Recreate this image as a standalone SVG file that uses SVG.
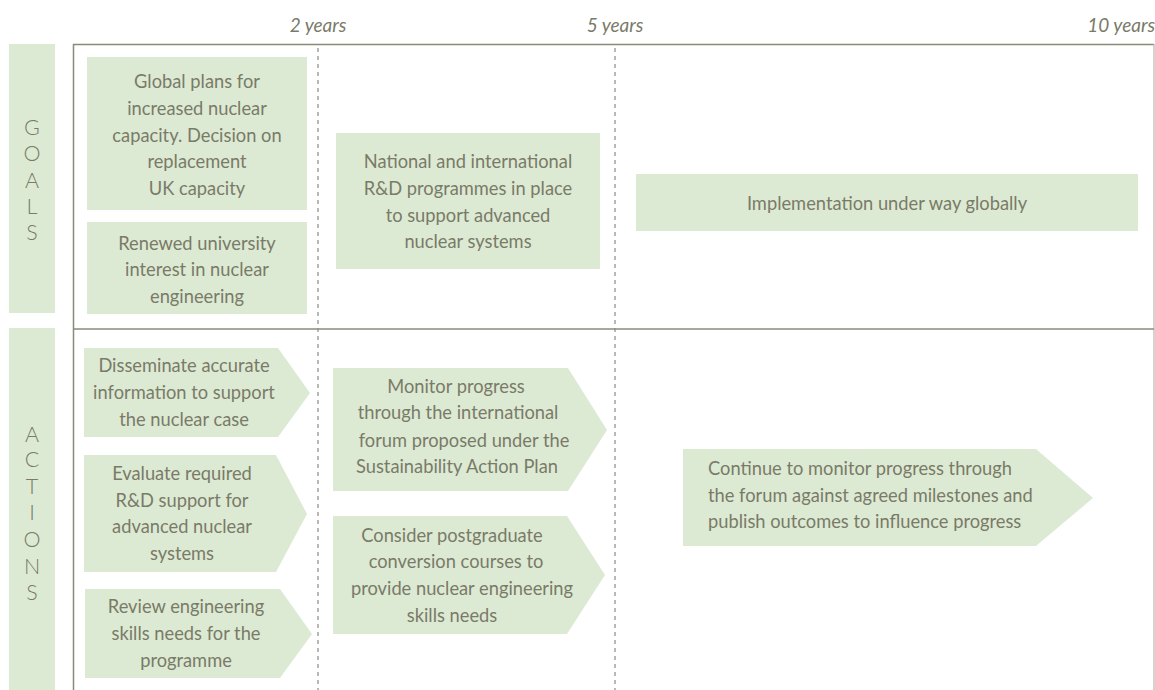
<svg xmlns="http://www.w3.org/2000/svg" width="1155" height="690" viewBox="0 0 1155 690">
<style>
.box{fill:#dcead3}
.t{font-family:Lato,"Open Sans","Liberation Sans",sans-serif;font-size:18.3px;fill:#7a7a68;text-anchor:middle}
.l{text-anchor:start}
.ax{font-family:Lato,"Open Sans","Liberation Sans",sans-serif;font-size:19px;font-style:italic;fill:#7a7a68;text-anchor:middle}
.side{font-family:Lato,"Open Sans","Liberation Sans",sans-serif;font-size:21.5px;font-weight:300;fill:#7a7a68;text-anchor:middle}
.frame{stroke:#8a8a78;stroke-width:1.5;fill:none}
.dash{stroke:#8a8a88;stroke-width:1.2;stroke-dasharray:4 4;fill:none}
</style>
<rect width="1155" height="690" fill="#ffffff"/>
<g id="axis">
<text class="ax" x="318" y="32">2 years</text>
<text class="ax" x="615" y="32">5 years</text>
<text class="ax" x="1155" y="32" style="text-anchor:end">10 years</text>
</g>
<g id="frame">
<line class="frame" x1="73.5" y1="44" x2="73.5" y2="690"/>
<line class="frame" x1="73" y1="44.5" x2="1154" y2="44.5"/>
<line x1="1154" y1="44" x2="1154" y2="690" stroke="#b8b8ac" stroke-width="1.2"/>
<line class="frame" x1="73" y1="329" x2="1154" y2="329"/>
<line class="dash" x1="318" y1="48" x2="318" y2="690"/>
<line class="dash" x1="615" y1="48" x2="615" y2="690"/>
</g>
<g id="goals-label">
<rect class="box" x="9" y="44" width="46" height="269"/>
<text class="side" x="32" y="135">G</text>
<text class="side" x="32" y="161">O</text>
<text class="side" x="32" y="188">A</text>
<text class="side" x="32" y="214">L</text>
<text class="side" x="32" y="240">S</text>
</g>
<g id="actions-label">
<rect class="box" x="9" y="328" width="46" height="362"/>
<text class="side" x="32" y="442">A</text>
<text class="side" x="32" y="467">C</text>
<text class="side" x="32" y="494">T</text>
<text class="side" x="32" y="520">I</text>
<text class="side" x="32" y="547">O</text>
<text class="side" x="32" y="574">N</text>
<text class="side" x="32" y="600">S</text>
</g>
<g id="g1">
<rect class="box" x="87" y="57" width="220" height="153"/>
<text class="t" x="197" y="88">Global plans for</text>
<text class="t" x="197" y="115">increased nuclear</text>
<text class="t" x="197" y="142">capacity. Decision on</text>
<text class="t" x="197" y="168">replacement</text>
<text class="t" x="197" y="195">UK capacity</text>
</g>
<g id="g2">
<rect class="box" x="87" y="222" width="220" height="92"/>
<text class="t" x="197" y="250">Renewed university</text>
<text class="t" x="197" y="276">interest in nuclear</text>
<text class="t" x="197" y="303">engineering</text>
</g>
<g id="g3">
<rect class="box" x="336" y="133" width="264" height="136"/>
<text class="t" x="468" y="168">National and international</text>
<text class="t" x="468" y="195">R&amp;D programmes in place</text>
<text class="t" x="468" y="222">to support advanced</text>
<text class="t" x="468" y="248">nuclear systems</text>
</g>
<g id="g4">
<rect class="box" x="636" y="174" width="502" height="57"/>
<text class="t" x="887" y="210">Implementation under way globally</text>
</g>
<g id="a1">
<polygon class="box" points="84,348 278,348 310,393 278,437 84,437"/>
<text class="t" x="184" y="372">Disseminate accurate</text>
<text class="t" x="184" y="399">information to support</text>
<text class="t" x="184" y="426">the nuclear case</text>
</g>
<g id="a2">
<polygon class="box" points="84,455 276,455 307,514 276,572 84,572"/>
<text class="t" x="182" y="480">Evaluate required</text>
<text class="t" x="182" y="507">R&amp;D support for</text>
<text class="t" x="182" y="533">advanced nuclear</text>
<text class="t" x="182" y="560">systems</text>
</g>
<g id="a3">
<polygon class="box" points="85,589 280,589 312,634 280,678 85,678"/>
<text class="t" x="186" y="613">Review engineering</text>
<text class="t" x="186" y="640">skills needs for the</text>
<text class="t" x="186" y="667">programme</text>
</g>
<g id="a4">
<polygon class="box" points="333,368 568,368 607,430 568,491 333,491"/>
<text class="t" x="456" y="393">Monitor progress</text>
<text class="t" x="458" y="419">through the international</text>
<text class="t" x="464" y="447">forum proposed under the</text>
<text class="t" x="457" y="473">Sustainability Action Plan</text>
</g>
<g id="a5">
<polygon class="box" points="333,516 567,516 605,575 567,634 333,634"/>
<text class="t" x="452" y="542">Consider postgraduate</text>
<text class="t" x="456" y="568">conversion courses to</text>
<text class="t" x="462" y="595">provide nuclear engineering</text>
<text class="t" x="452" y="622">skills needs</text>
</g>
<g id="a6">
<polygon class="box" points="683,449 1036,449 1093,498 1036,546 683,546"/>
<text class="t l" x="708" y="475">Continue to monitor progress through</text>
<text class="t l" x="708" y="502">the forum against agreed milestones and</text>
<text class="t l" x="708" y="528">publish outcomes to influence progress</text>
</g>
<g id="connectors"></g>
</svg>
